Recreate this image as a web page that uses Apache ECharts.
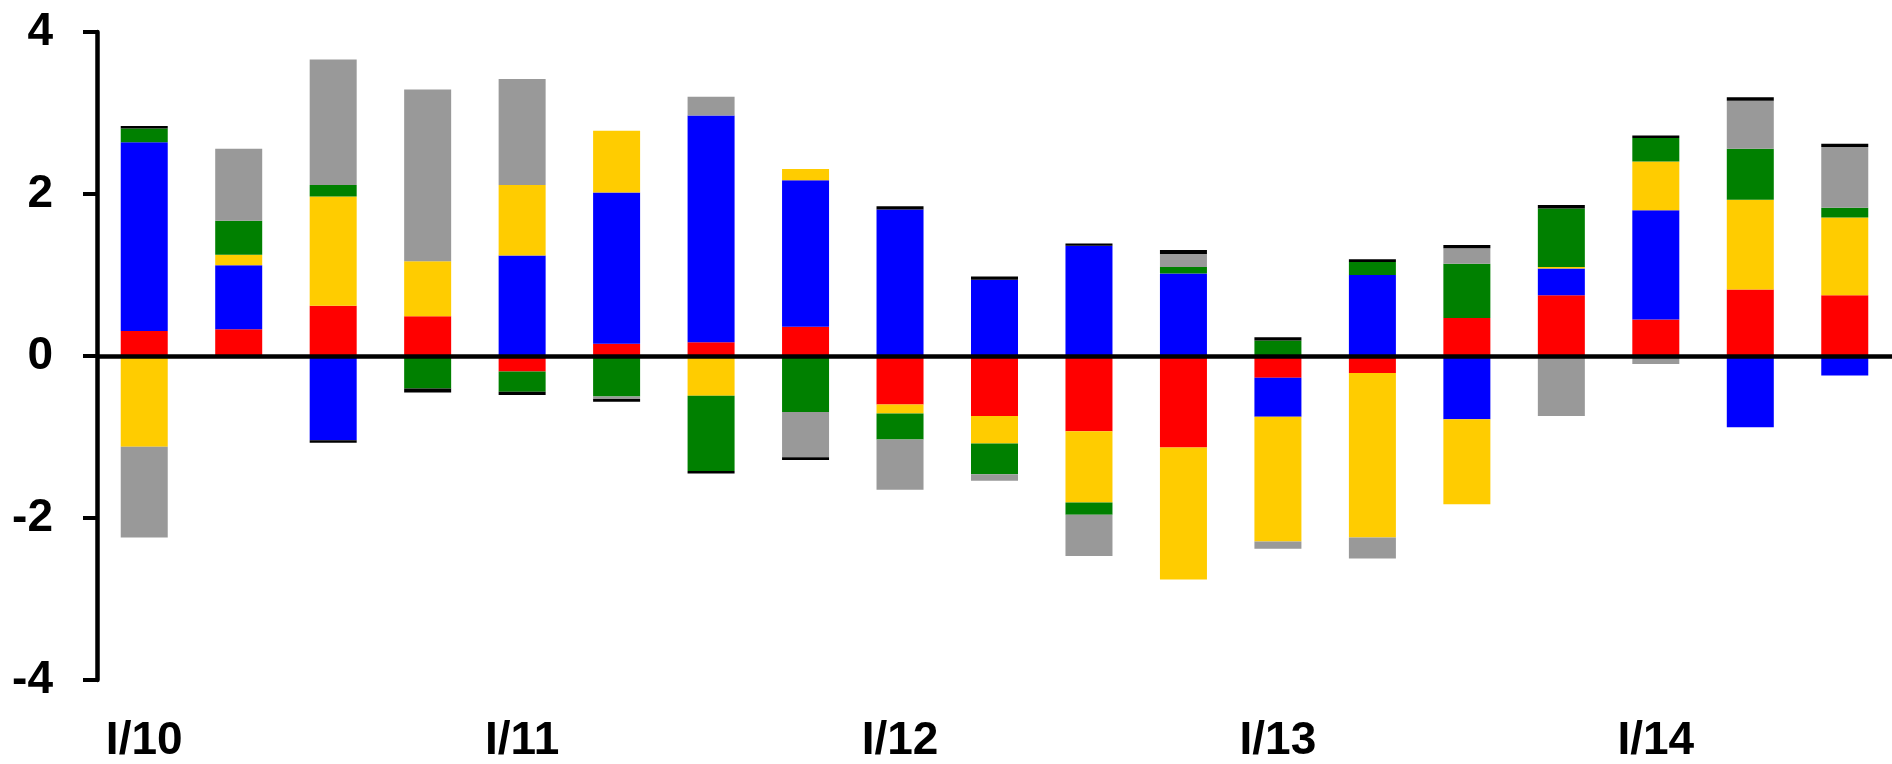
<!DOCTYPE html>
<html>
<head>
<meta charset="utf-8">
<script src="https://cdn.jsdelivr.net/npm/echarts@6/dist/echarts.min.js"></script>
<style>
  html, body { margin: 0; padding: 0; background: #ffffff; }
  #chart { width: 1892px; height: 764px; }
</style>
</head>
<body>
<div id="chart"></div>
<script>
const categories = ['I/10','II/10','III/10','IV/10','I/11','II/11','III/11','IV/11','I/12','II/12','III/12','IV/12','I/13','II/13','III/13','IV/13','I/14','II/14','III/14'];
const redValues    = [0.31, 0.33, 0.62, 0.49, -0.19, 0.15, 0.17, 0.36, -0.60, -0.74, -0.93, -1.13, -0.27, -0.21, 0.47, 0.75, 0.45, 0.82, 0.75];
const blueValues   = [2.33, 0.79, -1.04, 0, 1.24, 1.87, 2.80, 1.81, 1.81, 0.94, 1.36, 1.02, -0.48, 1.00, -0.78, 0.33, 1.35, -0.88, -0.24];
const yellowValues = [-1.12, 0.13, 1.35, 0.68, 0.87, 0.76, -0.49, 0.14, -0.11, -0.34, -0.88, -1.63, -1.54, -2.03, -1.05, 0.02, 0.60, 1.11, 0.96];
const greenValues  = [0.17, 0.42, 0.14, -0.40, -0.25, -0.50, -0.93, -0.69, -0.32, -0.38, -0.15, 0.08, 0.19, 0.16, 0.67, 0.72, 0.29, 0.63, 0.12];
const grayValues   = [-1.12, 0.89, 1.55, 2.12, 1.31, -0.03, 0.23, -0.56, -0.62, -0.08, -0.51, 0.16, -0.09, -0.26, 0.19, -0.74, -0.10, 0.59, 0.75];
const blackValues  = [0.03, 0, -0.03, -0.05, -0.04, -0.035, -0.03, -0.035, 0.04, 0.04, 0.03, 0.05, 0.04, 0.035, 0.04, 0.045, 0.032, 0.045, 0.04];
const yTicks = { min: -4, max: 4, interval: 2 };

const fontFamily = '"Liberation Sans", Arial, sans-serif';

function barSeries(name, data, color) {
  return {
    name: name,
    type: 'bar',
    stack: 'total',
    data: data,
    barWidth: 47,
    itemStyle: { color: color },
    emphasis: { disabled: true },
    animation: false
  };
}

const series = [
  barSeries('red', redValues, '#ff0000'),
  barSeries('blue', blueValues, '#0000ff'),
  barSeries('yellow', yellowValues, '#ffcc00'),
  barSeries('green', greenValues, '#008000'),
  barSeries('gray', grayValues, '#999999'),
  barSeries('black', blackValues, '#000000')
];
series[5].markLine = {
  silent: true,
  symbol: ['none', 'none'],
  label: { show: false },
  lineStyle: { color: '#000000', width: 4.5, type: 'solid' },
  data: [{ yAxis: 0 }],
  animation: false
};

const chart = echarts.init(document.getElementById('chart'), null, { renderer: 'canvas' });
chart.setOption({
  animation: false,
  backgroundColor: '#ffffff',
  grid: { left: 97, top: 32, width: 1812.6, height: 659 },
  xAxis: {
    type: 'category',
    data: categories,
    boundaryGap: true,
    axisLine: { show: false, onZero: false },
    axisTick: { show: false },
    splitLine: { show: false },
    axisLabel: {
      interval: 3,
      margin: 38,
      color: '#000000',
      fontSize: 46,
      fontWeight: 'bold',
      fontFamily: fontFamily
    }
  },
  yAxis: {
    type: 'value',
    min: yTicks.min,
    max: yTicks.max,
    interval: yTicks.interval,
    axisLine: { show: true, lineStyle: { color: '#000000', width: 4.5 } },
    axisTick: { show: true, length: 14, lineStyle: { color: '#000000', width: 4 } },
    splitLine: { show: false },
    axisLabel: {
      margin: 44,
      color: '#000000',
      fontSize: 46,
      fontWeight: 'bold',
      fontFamily: fontFamily
    }
  },
  series: series
});
</script>
</body>
</html>
